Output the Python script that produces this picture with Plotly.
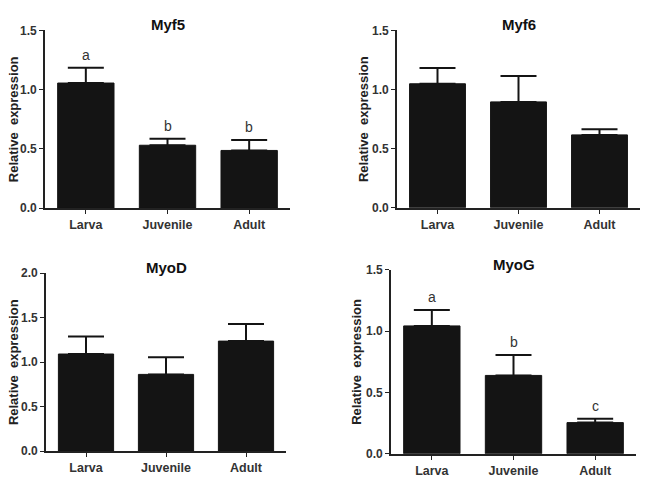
import plotly.graph_objects as go

W, H = 645, 486
stages = ["Larva", "Juvenile", "Adult"]

genes = ["Myf5", "Myf6", "MyoD", "MyoG"]
myf5_mean = [1.055, 0.530, 0.486]
myf5_err = [0.130, 0.055, 0.088]
myf5_sig = ["a", "b", "b"]
myf6_mean = [1.048, 0.895, 0.616]
myf6_err = [0.134, 0.219, 0.047]
myod_mean = [1.091, 0.862, 1.236]
myod_err = [0.196, 0.193, 0.193]
myog_mean = [1.043, 0.639, 0.254]
myog_err = [0.130, 0.166, 0.031]
myog_sig = ["a", "b", "c"]
y_max = [1.5, 1.5, 2.0, 1.5]

means = [myf5_mean, myf6_mean, myod_mean, myog_mean]
errs = [myf5_err, myf6_err, myod_err, myog_err]
sigs = [myf5_sig, None, None, myog_sig]

# pixel boxes: (x0, x1, ytop, ybottom)
boxes = [(45, 290, 24, 207), (397, 640, 24, 206.7),
         (46, 286, 274, 457.3), (391, 636, 270.7, 460)]
ytitle_x = [13, 363, 13, 357]

fig = go.Figure()
annotations = []
layout = {}
FONT = "Liberation Sans, Arial, sans-serif"
for i, g in enumerate(genes):
    n = "" if i == 0 else str(i + 1)
    x0, x1, yt, yb = boxes[i]
    fig.add_trace(go.Bar(
        x=stages, y=means[i], xaxis="x" + n, yaxis="y" + n,
        marker=dict(color="#141414", line=dict(color="#141414", width=1)),
        width=0.69,
        error_y=dict(type="data", symmetric=False, array=errs[i],
                     arrayminus=[0] * 3, color="#141414", thickness=2, width=18),
        hoverinfo="skip", showlegend=False))
    axcommon = dict(showline=True, linecolor="#222", linewidth=1.6,
                    ticks="outside", ticklen=4, tickwidth=1.4, tickcolor="#222",
                    showgrid=False, zeroline=False,
                    tickfont=dict(family=FONT, size=12, color="#333", weight="bold"))
    layout["xaxis" + n] = dict(axcommon, domain=[x0 / W, x1 / W], anchor="y" + n,
                               range=[-0.5, 2.5], fixedrange=True,
                               tickfont=dict(family=FONT, size=12.5, color="#333", weight="bold"))
    layout["yaxis" + n] = dict(axcommon, domain=[1 - yb / H, 1 - yt / H], anchor="x" + n,
                               range=[0, y_max[i]], dtick=0.5, tickformat=".1f",
                               fixedrange=True)
    annotations.append(dict(text="<b>" + g + "</b>", xref="paper", yref="paper",
                            x=(x0 + x1) / 2 / W, y=1 - (yt - 6) / H, showarrow=False,
                            font=dict(family=FONT, size=15, color="#111"),
                            xanchor="center", yanchor="middle"))
    annotations.append(dict(text="<b>Relative  expression</b>", xref="paper", yref="paper",
                            x=ytitle_x[i] / W, y=1 - (yt + yb) / 2 / H, textangle=-90,
                            showarrow=False, font=dict(family=FONT, size=13, color="#222"),
                            xanchor="center", yanchor="middle"))
    if sigs[i]:
        for k, s in enumerate(stages):
            annotations.append(dict(text=sigs[i][k], x=s, y=means[i][k] + errs[i][k],
                                    xref="x" + n, yref="y" + n, showarrow=False,
                                    yanchor="bottom", yshift=3,
                                    font=dict(family=FONT, size=14, color="#333")))

fig.update_layout(width=W, height=H, margin=dict(l=0, r=0, t=0, b=0),
                  paper_bgcolor="white", plot_bgcolor="white",
                  annotations=annotations, **layout)
fig.write_html("out.html", config={"displayModeBar": False})
